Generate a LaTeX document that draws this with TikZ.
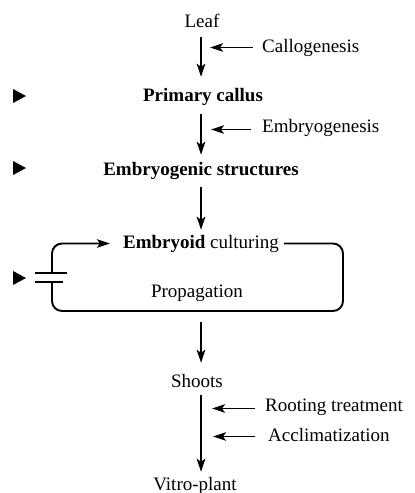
\documentclass[tikz,border=0pt]{standalone}
\usepackage{fontspec}
\setmainfont{Liberation Serif}
\usetikzlibrary{arrows.meta}
\begin{document}
\begin{tikzpicture}[x=1pt,y=-1pt,
  lbl/.style={inner sep=0pt,text height=13pt,text depth=4pt,font=\fontsize{19}{22}\selectfont},
  arr/.style={line width=1.9pt,-{Stealth[length=13pt,width=8.5pt,inset=3pt]}},
  ln/.style={line width=1.9pt},
  marker/.style={fill=black,draw=none}]
\useasboundingbox (0,0) rectangle (415,493);
\coordinate (ax) at (201,0);
% main nodes
\node[lbl,anchor=base] (leaf) at (202,27) {Leaf};
\node[lbl,anchor=base] (pc) at (203,101) {\bfseries Primary callus};
\node[lbl,anchor=base] (es) at (201,175) {\bfseries Embryogenic structures};
\node[lbl,anchor=base] (ec) at (201,248) {\textbf{Embryoid} culturing};
\node[lbl,anchor=base] (prop) at (197,297) {Propagation};
\node[lbl,anchor=base] (shoots) at (197,387) {Shoots};
\node[lbl,anchor=base] (vp) at (195,490) {Vitro-plant};
% side labels
\node[lbl,anchor=base west] (callo) at (262,52) {Callogenesis};
\node[lbl,anchor=base west] (embg) at (262,132) {Embryogenesis};
\node[lbl,anchor=base west] (root) at (265,411) {Rooting treatment};
\node[lbl,anchor=base west] (accl) at (268,441) {Acclimatization};
% vertical arrows
\draw[arr,shorten <=6pt,shorten >=11pt] (leaf.south -| ax) -- (pc.north -| ax);
\draw[arr,shorten <=9pt,shorten >=7pt] (pc.south -| ax) -- (es.north -| ax);
\draw[arr,shorten <=8pt,shorten >=5pt] (es.south -| ax) -- (ec.north -| ax);
\coordinate (boxbot) at (201,311);
\draw[arr,shorten <=11pt,shorten >=11pt] (boxbot) -- (shoots.north -| ax);
\draw[arr,shorten <=4pt,shorten >=5pt] (shoots.south -| ax) -- (vp.north -| ax);
% side arrows
\draw[arr,shorten <=9pt,shorten >=9pt] (callo.west) -- (callo.west -| ax);
\draw[arr,shorten <=11pt,shorten >=10pt] ([yshift=-2pt]embg.west) -- ([yshift=-2pt]embg.west -| ax);
\draw[arr,shorten <=10pt,shorten >=11pt] ([yshift=-2pt]root.west) -- ([yshift=-2pt]root.west -| ax);
\draw[arr,shorten <=13pt,shorten >=12pt] (accl.west) -- (accl.west -| ax);
% loop
\coordinate (capt) at (52,273);
\coordinate (capb) at (52,282);
\draw[arr,rounded corners=10pt,shorten >=13pt] (capt) -- (52,243.5) -- (ec.west);
\draw[ln,rounded corners=10pt,shorten <=5pt] (ec.east) -- (343,243.5) -- (343,311) -- (52,311) -- (capb);
\draw[ln] (35,273) -- (67,273);
\draw[ln] (35,282) -- (63,282);
% markers
\fill[marker] (13,89) -- (26,96) -- (13,103) -- cycle;
\fill[marker] (13,161) -- (26,168) -- (13,175) -- cycle;
\fill[marker] (13,271) -- (26,278) -- (13,285) -- cycle;
\end{tikzpicture}
\end{document}
